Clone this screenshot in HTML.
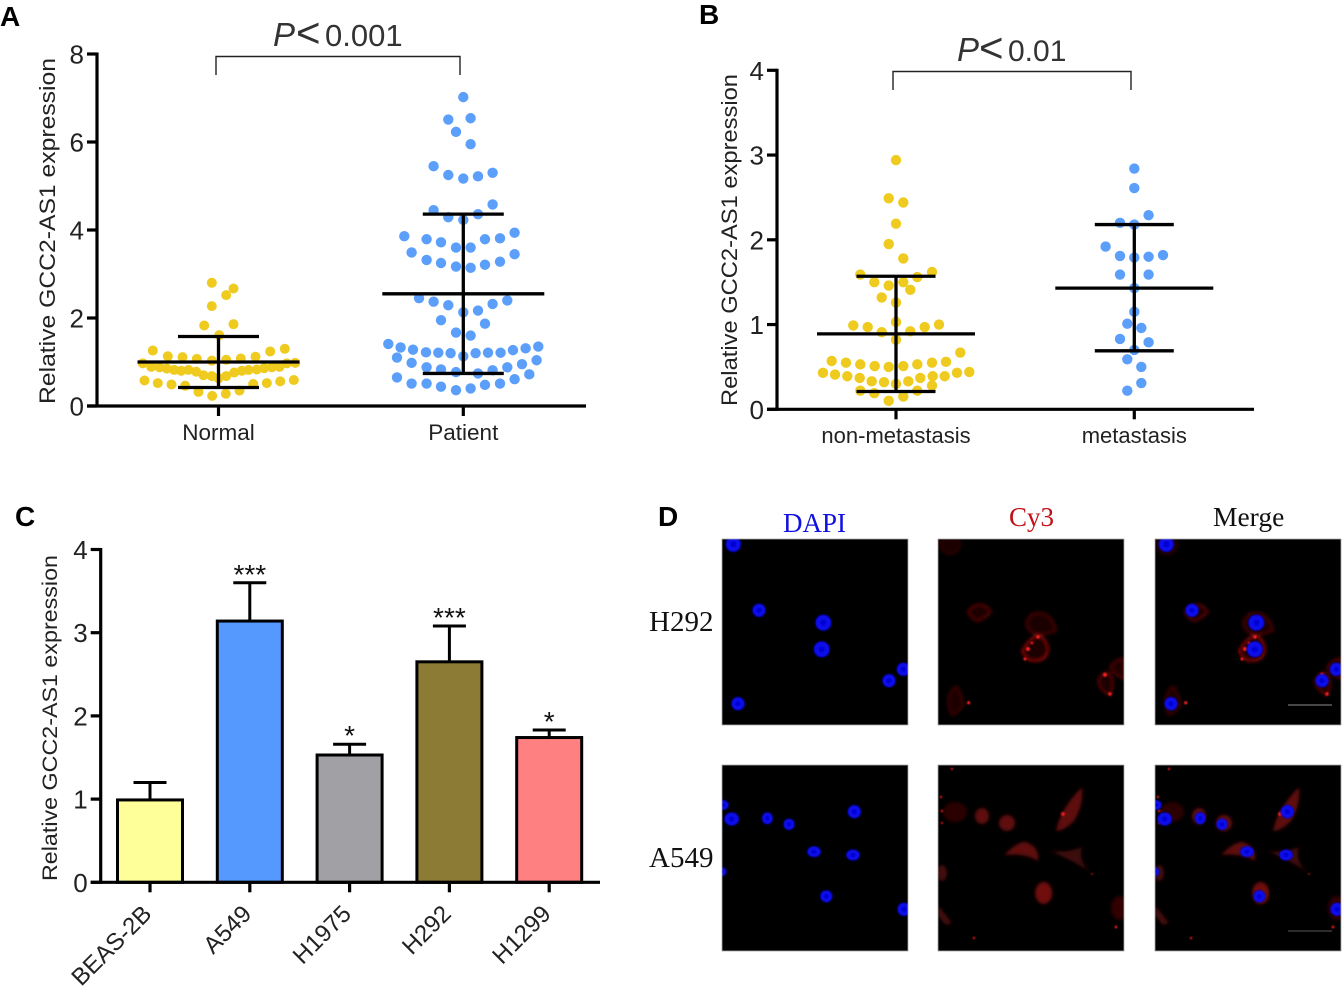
<!DOCTYPE html>
<html>
<head>
<meta charset="utf-8">
<title>GCC2-AS1 expression figure</title>
<style>
html,body{margin:0;padding:0;background:#fff}
svg{display:block}
text{font-family:"Liberation Sans",sans-serif;fill:#222}
.serif{font-family:"Liberation Serif",serif}
.letter{font-weight:bold;font-size:28px;fill:#000}
.tick{font-size:26px;text-anchor:end}
.cat{font-size:22.500px;text-anchor:middle}
.ytitle{font-size:22.500px;text-anchor:middle}
.sig{font-size:33px;fill:#333}
.star{font-size:28px;text-anchor:middle;fill:#111}
.lab{font-size:27px}
</style>
</head>
<body>
<svg id="fig" xmlns="http://www.w3.org/2000/svg" width="1344" height="987" viewBox="0 0 1344 987">
<defs>
<filter id="b1" x="-30%" y="-30%" width="160%" height="160%"><feGaussianBlur stdDeviation="0.9"/></filter>
<filter id="b2" x="-30%" y="-30%" width="160%" height="160%"><feGaussianBlur stdDeviation="1.6"/></filter>
<radialGradient id="nuc"><stop offset="0" stop-color="#0000c0"/><stop offset="0.45" stop-color="#0808e8"/><stop offset="0.88" stop-color="#0808ea"/><stop offset="1" stop-color="#0000a0"/></radialGradient>
<g id="h292-dapi" filter="url(#b1)">
<circle cx="11.3" cy="5.3" r="7.800" fill="url(#nuc)"/><circle cx="37" cy="71.3" r="6.800" fill="url(#nuc)"/><circle cx="101.3" cy="83.7" r="8.200" fill="url(#nuc)"/><circle cx="99.7" cy="110.3" r="8.200" fill="url(#nuc)"/><circle cx="167" cy="141.7" r="6.800" fill="url(#nuc)"/><circle cx="181.3" cy="130.3" r="6.800" fill="url(#nuc)"/><circle cx="16" cy="164.7" r="6.800" fill="url(#nuc)"/>
</g>
<g id="h292-cy3">
<g filter="url(#b2)" fill="#1c0202" stroke="#560909" stroke-width="2">
<ellipse cx="12" cy="6" rx="10" ry="9" stroke="#2c0505"/>
<path d="M30 72 Q36 64 46 66 Q52 70 53 73 Q46 80 40 82 Q32 80 30 72Z"/>
<path d="M88 84 Q92 72 104 74 Q116 78 118 92 Q108 96 100 96 Q90 94 88 84Z" stroke="#4a0808"/>
<path d="M84 112 Q90 100 100 96 Q110 100 110 112 Q108 122 96 122 Q88 122 84 112Z" stroke="#8c1010"/>
<path d="M172 128 Q180 118 186 120 L186 140 Q176 136 172 128Z" stroke="#500808"/>
<path d="M160 142 Q164 132 172 134 Q178 144 172 156 Q162 152 160 142Z" stroke="#5c0a0a"/>
<path d="M10 160 Q14 146 20 148 Q24 158 26 166 Q18 176 14 176 Q10 170 10 160Z" stroke="#3c0707"/>
</g>
<g filter="url(#b1)" fill="#ff2222">
<circle cx="30.7" cy="163.7" r="1.6"/><circle cx="167" cy="135.7" r="2"/><circle cx="172" cy="155" r="1.7"/><circle cx="90" cy="110" r="2"/><circle cx="87" cy="120" r="1.5"/><circle cx="100" cy="98" r="1.7"/><circle cx="94" cy="104" r="1.3"/>
</g>
</g>
<g id="a549-dapi" filter="url(#b1)">
<ellipse cx="1.3" cy="40" rx="5.500" ry="5" fill="url(#nuc)"/><ellipse cx="9.7" cy="54" rx="7.500" ry="6.800" fill="url(#nuc)"/><ellipse cx="45.3" cy="53.3" rx="5.600" ry="6.200" fill="url(#nuc)"/><ellipse cx="67" cy="59.3" rx="5.800" ry="5.800" fill="url(#nuc)"/><circle cx="132.3" cy="46.7" r="6.800" fill="url(#nuc)"/><ellipse cx="92" cy="86.7" rx="7" ry="5.600" fill="url(#nuc)"/><ellipse cx="131" cy="90" rx="7" ry="5.600" fill="url(#nuc)"/><circle cx="104.3" cy="131.3" r="6.200" fill="url(#nuc)"/><circle cx="182" cy="144.3" r="6.800" fill="url(#nuc)"/><circle cx="0" cy="106.7" r="4.500" fill="url(#nuc)"/>
</g>
<g id="a549-cy3">
<g filter="url(#b2)" fill="#5e0c0c">
<ellipse cx="17" cy="47" rx="12" ry="10" fill="#2a0505"/>
<ellipse cx="44" cy="51" rx="7" ry="8"/>
<ellipse cx="69" cy="58" rx="8" ry="8"/>
<path d="M118 66 Q122 44 144 22 Q146 40 136 56 Q126 66 118 66Z"/>
<path d="M66 90 Q80 76 88 77 Q102 82 100 96 Q88 88 66 90Z"/>
<path d="M112 86 Q130 88 144 82 Q140 98 154 108 Q136 96 112 86Z" fill="#3e0808"/>
<ellipse cx="105.7" cy="128" rx="8.500" ry="11" fill="#701010"/>
<ellipse cx="182" cy="143" rx="9" ry="12" fill="#300606"/>
<ellipse cx="4" cy="108" rx="5" ry="8" fill="#420909"/>
<path d="M0 140 Q8 150 14 158 L8 160 Q2 154 0 150Z" fill="#420909"/>
</g>
<g filter="url(#b1)" fill="#e81a1a">
<circle cx="14" cy="4" r="1.200"/><circle cx="3" cy="32" r="1.200"/><circle cx="4" cy="46" r="1.200"/><circle cx="4" cy="58" r="1.100"/><circle cx="125" cy="49" r="2"/><circle cx="36" cy="173" r="1.200"/><circle cx="178" cy="162" r="1.400"/><circle cx="154" cy="109" r="0.900"/>
</g>
</g>
</defs>

<g id="panel-a">
<text class="letter" x="0" y="26">A</text>
<text class="ytitle" transform="translate(55,231) rotate(-90)" textLength="346" lengthAdjust="spacingAndGlyphs">Relative GCC2-AS1 expression</text>
<text class="sig" y="46"><tspan x="273" font-style="italic">P</tspan><tspan x="296" font-size="42" dy="1">&lt;</tspan><tspan x="325" font-size="31" dy="-1">0.001</tspan></text>
<path d="M216 75V56.500H460V75" fill="none" stroke="#222" stroke-width="1.400"/>
</g>
<g id="panel-b">
<text class="letter" x="699" y="24">B</text>
<text class="ytitle" transform="translate(737,240) rotate(-90)" textLength="332" lengthAdjust="spacingAndGlyphs">Relative GCC2-AS1 expression</text>
<text class="sig" y="61"><tspan x="957" font-style="italic">P</tspan><tspan x="979" font-size="42" dy="1">&lt;</tspan><tspan x="1008" font-size="30" dy="-1">0.01</tspan></text>
<path d="M893 90V71.500H1131V90" fill="none" stroke="#222" stroke-width="1.400"/>
</g>
<g id="panel-c">
<text class="letter" x="15" y="526">C</text>
<text class="ytitle" style="font-size:21.500px" transform="translate(57,718) rotate(-90)" textLength="326" lengthAdjust="spacingAndGlyphs">Relative GCC2-AS1 expression</text>
</g>
<g id="panel-d">
<text class="letter" x="658" y="526">D</text>
<text class="serif lab" x="783" y="532" style="fill:#1010e0">DAPI</text>
<text class="serif lab" x="1009" y="526" style="fill:#c01018">Cy3</text>
<text class="serif lab" x="1213" y="526" style="fill:#111;font-size:27.500px">Merge</text>
<text class="serif lab" x="649" y="631" style="fill:#111;font-size:29px">H292</text>
<text class="serif lab" x="649" y="867" style="fill:#111;font-size:29px">A549</text>

<svg x="722" y="539" width="186" height="186" viewBox="0 0 186 186"><rect width="186" height="186" fill="#000"/><use href="#h292-dapi"/></svg>
<svg x="938" y="539" width="186" height="186" viewBox="0 0 186 186"><rect width="186" height="186" fill="#000"/><use href="#h292-cy3"/></svg>
<svg x="1155" y="539" width="186" height="186" viewBox="0 0 186 186"><rect width="186" height="186" fill="#000"/><use href="#h292-cy3"/><use href="#h292-dapi"/><line x1="133" y1="166" x2="177" y2="166" stroke="#bbb" stroke-width="0.800"/></svg>
<svg x="722" y="765" width="186" height="186" viewBox="0 0 186 186"><rect width="186" height="186" fill="#000"/><use href="#a549-dapi"/></svg>
<svg x="938" y="765" width="186" height="186" viewBox="0 0 186 186"><rect width="186" height="186" fill="#000"/><use href="#a549-cy3"/></svg>
<svg x="1155" y="765" width="186" height="186" viewBox="0 0 186 186"><rect width="186" height="186" fill="#000"/><use href="#a549-cy3"/><use href="#a549-dapi"/><line x1="133" y1="166" x2="177" y2="166" stroke="#777" stroke-width="0.800"/></svg>
</g>
</svg>

<script>
// Panel A data
const panelATicks = [0, 2, 4, 6, 8];
const panelACategories = ['Normal', 'Patient'];
const normalValues = [2.80,2.67,2.52,2.27,1.83,1.86,1.61,1.26,1.24,1.30,1.13,1.11,1.07,1.03,1.05,1.08,1.12,.97,.89,.88,.85,.82,.80,.82,.78,.70,.68,.63,.68,.76,.80,.82,.83,.86,.88,.89,.97,.98,.58,.52,.49,.46,.32,.23,.28,.35,.50,.52,.56,.59];
const normalJitter = [-.67,1.5,.77,-.67,-1.43,1.5,.07,-6.57,5.17,6.63,-5.07,-3.6,-2.17,-.67,.77,2.23,3.7,-7.57,-6.73,-5.9,-5.17,-4.43,-3.73,-3,-2.23,-1.5,-.67,0,.77,1.57,2.33,3,3.83,4.57,5.33,6.1,6.83,7.67,-7.4,-6.07,-4.7,-3.33,-2,-.63,.73,2.1,3.47,4.83,6.17,7.53];
const normalStats = [1.00, 1.58, 0.42];
const patientValues = [7.02,6.51,6.54,6.23,5.95,5.45,5.25,5.17,5.22,5.30,4.58,4.45,4.29,4.23,4.36,3.86,3.79,3.72,3.60,3.60,3.79,3.81,3.94,3.49,3.45,3.32,3.25,3.17,3.14,3.21,3.28,2.45,2.37,2.29,2.13,2.17,2.32,2.40,1.95,1.87,1.67,1.60,1.41,1.33,1.28,1.22,1.21,1.20,1.13,1.20,1.21,1.21,1.27,1.31,1.35,1.10,.98,.88,.83,.77,.74,.81,.88,.95,1.04,.65,.51,.51,.44,.36,.40,.48,.51,.61,.72];
const patientJitter = [0,-1.5,.73,-.73,.73,-2.97,-1.5,0,1.47,2.93,2.93,-2.97,-1.5,0,1.47,-5.9,-3.67,-2.23,-.73,.73,2.17,3.67,5.13,-5.17,5.13,-3.67,-2.23,-.73,.73,2.17,3.67,-4.43,-2.97,-1.5,0,1.47,2.93,4.4,-2.23,2.17,-.73,.73,-7.5,-6.27,-5.03,-3.73,-2.5,-1.27,0,1.23,2.47,3.73,4.97,6.23,7.5,-6.63,-5.17,-3.67,-2.23,-.73,1.47,2.93,4.4,5.87,7.33,-6.63,-5.17,-3.67,-2.23,-.73,.73,2.17,3.67,5.13,6.6];
const patientStats = [2.55, 4.36, 0.74];

// Panel B data
const panelBTicks = [0, 1, 2, 3, 4];
const panelBCategories = ['non-metastasis', 'metastasis'];
const nonMetValues = [2.94,2.49,2.44,2.19,1.95,1.78,1.59,1.62,1.56,1.50,1.46,1.50,1.41,1.32,1.26,1.03,.99,.97,.91,.92,.97,1.00,.82,.67,.57,.55,.53,.51,.50,.51,.53,.55,.56,.43,.41,.39,.37,.33,.32,.30,.33,.37,.39,.39,.43,.44,.22,.19,.28,.22,.15,.10];
const nonMetJitter = [0,-.73,.73,0,-.73,.73,-3.57,3.6,2.13,-2.17,-.73,.73,1.43,-1.43,0,0,-4.27,-2.83,-1.43,1.43,2.87,4.3,0,6.43,-6.43,-5,-3.57,-2.13,-.73,.73,2.13,3.6,5,-7.3,-6.1,-4.87,-3.63,-2.43,-1.2,0,1.23,2.43,3.67,4.87,6.1,7.33,-3.57,-2.17,3.6,2.13,.73,-.73];
const nonMetStats = [0.89, 1.57, 0.21];
const metValues = [2.84,2.61,2.29,2.20,2.18,1.92,1.81,1.79,1.80,1.82,1.59,1.59,1.43,1.15,1.01,.96,.83,.79,.70,.59,.50,.31,.22];
const metJitter = [0,0,1.43,-1.43,0,-2.87,-1.43,0,1.43,2.87,-1.43,1.43,0,0,-.7,.7,-1.43,1.43,0,-.7,.7,.7,-.7];
const metStats = [1.43, 2.18, 0.69];

// Panel C data
const panelCTicks = [0, 1, 2, 3, 4];
const cellLines = ['BEAS-2B', 'A549', 'H1975', 'H292', 'H1299'];
const barValues = [0.99, 3.14, 1.53, 2.65, 1.74];
const barErrors = [0.21, 0.46, 0.13, 0.43, 0.09];
const barStars = ['', '***', '*', '***', '*'];
const barColors = ['#FFFF99', '#5599FF', '#A0A0A5', '#8B7B35', '#FF8080'];

// Axis functions
const yA = v => 406 - v * 44;
const yB = v => 409.3 - v * 84.75;
const yC = v => 882.3 - v * 83.2;
const xA = i => 218.5 + i * 244.8;
const xB = i => 896 + i * 238.3;
const xC = i => 150 + i * 99.8;
const jitterPx = j => j * 10;

const NS = 'http://www.w3.org/2000/svg';
function add(parent, tag, attrs, txt) {
  const el = document.createElementNS(NS, tag);
  for (const k in attrs) el.setAttribute(k, attrs[k]);
  if (txt !== undefined) el.textContent = txt;
  parent.appendChild(el);
  return el;
}
function stroke(parent, x1, y1, x2, y2, w) {
  return add(parent, 'line', {x1: x1, y1: y1, x2: x2, y2: y2, stroke: '#000', 'stroke-width': w});
}

function drawAxes(g, x0, xEnd, y0, yScale, ticks) {
  const yAxis = stroke(g, x0, yScale(ticks[ticks.length - 1]) - 1.5, x0, y0 + 1.5, 3.2);
  
  
  const xAxis = stroke(g, x0 - 10, y0, xEnd, y0, 3.2);
  
  
  ticks.forEach(t => {
    const m = stroke(g, x0 - 10, yScale(t), x0, yScale(t), 3.2);
    
    
    const l = add(g, 'text', {class: 'tick', x: x0 - 13, y: yScale(t) + 9.5}, String(t));
    
    
  });
}

function drawGroup(g, cx, values, jitter, stats, yScale, color, halfMean, halfSd, r) {
  values.forEach((v, i) => {
    const c = add(g, 'circle', {cx: cx + jitterPx(jitter[i]), cy: yScale(v), r: r, fill: color});
    
    
  });
  const mean = stroke(g, cx - halfMean, yScale(stats[0]), cx + halfMean, yScale(stats[0]), 3.3);
  
  
  const up = stroke(g, cx - halfSd, yScale(stats[1]), cx + halfSd, yScale(stats[1]), 3.3);
  
  
  const low = stroke(g, cx - halfSd, yScale(stats[2]), cx + halfSd, yScale(stats[2]), 3.3);
  
  
  const wh = stroke(g, cx, yScale(stats[1]), cx, yScale(stats[2]), 3.3);
  
  
}

function drawCategories(g, cats, xf, y0, labelY, size) {
  cats.forEach((name, i) => {
    const m = stroke(g, xf(i), y0, xf(i), y0 + 10, 3.2);
    
    
    const l = add(g, 'text', {class: 'cat', x: xf(i), y: labelY, style: 'font-size:' + size + 'px'}, name);
    
    
  });
}

const YELLOW = '#EFCB1F';
const BLUE = '#5B9FFB';

// Panel A
const gA = document.getElementById('panel-a');
drawGroup(gA, xA(0), normalValues, normalJitter, normalStats, yA, YELLOW, 81, 40.5, 5);
drawGroup(gA, xA(1), patientValues, patientJitter, patientStats, yA, BLUE, 81, 40.5, 5.2);
drawAxes(gA, 97, 586, yA(0), yA, panelATicks);
drawCategories(gA, panelACategories, xA, yA(0), 440, 22.5);

// Panel B
const gB = document.getElementById('panel-b');
drawGroup(gB, xB(0), nonMetValues, nonMetJitter, nonMetStats, yB, YELLOW, 79, 39.5, 5.2);
drawGroup(gB, xB(1), metValues, metJitter, metStats, yB, BLUE, 79, 39.5, 5.2);
drawAxes(gB, 777, 1254, yB(0), yB, panelBTicks);
drawCategories(gB, panelBCategories, xB, yB(0), 443, 22);

// Panel C
const gC = document.getElementById('panel-c');
cellLines.forEach((name, i) => {
  const cx = xC(i);
  const top = yC(barValues[i] + barErrors[i]);
  const wh = stroke(gC, cx, top, cx, yC(barValues[i]), 3);
  
  
  const cap = stroke(gC, cx - 16.5, top, cx + 16.5, top, 3);
  
  
  const bar = add(gC, 'rect', {x: cx - 32.5, y: yC(barValues[i]), width: 65, height: yC(0) - yC(barValues[i]), fill: barColors[i], stroke: '#000', 'stroke-width': 3});
  
  
  if (barStars[i]) {
    const s = add(gC, 'text', {class: 'star', x: cx, y: top + 1}, barStars[i]);
    
    
  }
  const m = stroke(gC, cx, yC(0), cx, yC(0) + 10, 3.2);
  
  
  const l = add(gC, 'text', {x: 0, y: 0, 'text-anchor': 'end', 'font-size': 24, transform: 'translate(' + (cx + 3) + ',' + (yC(0) + 33) + ') rotate(-45)'}, name);
  
  
});
drawAxes(gC, 100.7, 600, yC(0), yC, panelCTicks);

// Panel D borders
[[722,539],[938,539],[1155,539],[722,765],[938,765],[1155,765]].forEach(p => {
  const f = add(document.getElementById('panel-d'), 'rect', {x: p[0], y: p[1], width: 186, height: 186, fill: 'none', stroke: '#aaa', 'stroke-width': 0.8});
  
  
});
</script>
</body>
</html>
